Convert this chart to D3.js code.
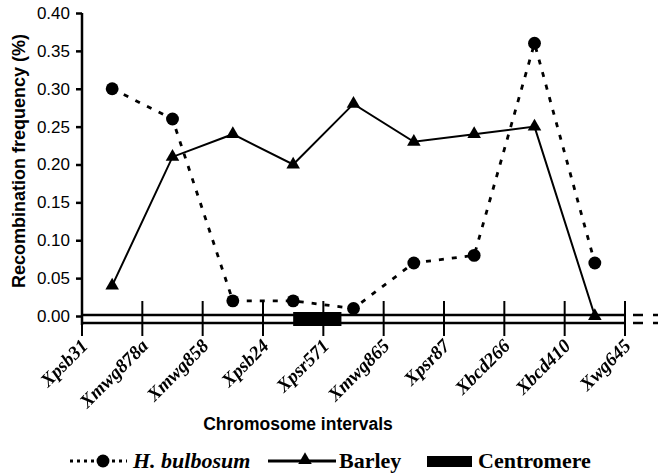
<!DOCTYPE html>
<html>
<head>
<meta charset="utf-8">
<script src="https://cdn.jsdelivr.net/npm/d3@7"></script>
<style>
  body { margin: 0; background: #fff; }
  svg { display: block; }
  text { fill: #000; }
  .mlabels { opacity: 0.999; will-change: transform; }
</style>
</head>
<body>
<script>
// markers along the chromosome (interval boundaries)
const markers = ["Xpsb31", "Xmwg878a", "Xmwg858", "Xpsb24", "Xpsr571", "Xmwg865", "Xpsr87", "Xbcd266", "Xbcd410", "Xwg645"];
// recombination frequency per interval (between consecutive markers)
const bulbosum = [0.30, 0.26, 0.02, 0.02, 0.01, 0.07, 0.08, 0.36, 0.07];
const barley = [0.04, 0.21, 0.24, 0.20, 0.28, 0.23, 0.24, 0.25, 0.00];
// centromere position in marker-index units
const centromere = [3.5, 4.3];
const yTicks = [0, 0.05, 0.10, 0.15, 0.20, 0.25, 0.30, 0.35, 0.40];

const W = 658, H = 474;
const svg = d3.select("body").append("svg").attr("width", W).attr("height", H);

const x = d3.scaleLinear().domain([0, markers.length - 1]).range([82, 625]);
const y = d3.scaleLinear().domain([0, 0.40]).range([316, 13]);

// y axis
const yAxis = svg.append("g")
    .attr("transform", "translate(82,0)")
    .call(d3.axisLeft(y).tickValues(yTicks).tickFormat(d3.format(".2f")).tickSize(6).tickPadding(6));
yAxis.select(".domain").remove();
yAxis.selectAll(".tick line").attr("stroke", "#000").attr("stroke-width", 2.5);
yAxis.selectAll("text").attr("font-family", "Liberation Sans, Arial, sans-serif").attr("font-size", 17).attr("fill", "#000");
svg.append("line").attr("x1", 82).attr("x2", 82).attr("y1", y(0.40)).attr("y2", 325)
    .attr("stroke", "#000").attr("stroke-width", 2.5);

// chromosome drawn as a double line
[315, 323].forEach(yy => {
  svg.append("line").attr("x1", x(0)).attr("x2", x(markers.length - 1)).attr("y1", yy).attr("y2", yy)
      .attr("stroke", "#000").attr("stroke-width", 2.5);
  svg.append("line").attr("x1", 633).attr("x2", 662).attr("y1", yy).attr("y2", yy)
      .attr("stroke", "#000").attr("stroke-width", 2.5).attr("stroke-dasharray", "10,10");
});

// centromere
svg.append("rect")
    .attr("x", x(centromere[0])).attr("width", x(centromere[1]) - x(centromere[0]))
    .attr("y", 312).attr("height", 14).attr("fill", "#000");

// marker ticks
svg.selectAll(".mtick").data(markers).join("line")
    .attr("class", "mtick")
    .attr("x1", (d, i) => x(i)).attr("x2", (d, i) => x(i))
    .attr("y1", 301).attr("y2", 336)
    .attr("stroke", "#000").attr("stroke-width", 2);

// marker labels
svg.append("g").attr("class", "mlabels")
  .selectAll("text").data(markers).join("text")
    .attr("transform", (d, i) => `translate(${x(i) + 7},${347}) rotate(-45)`)
    .attr("text-anchor", "end")
    .attr("fill", "#000")
    .attr("font-family", "Liberation Serif, Times New Roman, serif")
    .attr("font-style", "italic").attr("font-weight", "bold").attr("font-size", 19)
    .text(d => d);

// series
const line = d3.line().x((d, i) => x(i + 0.5)).y(d => y(d));

svg.append("path").datum(bulbosum).attr("d", line)
    .attr("fill", "none").attr("stroke", "#000").attr("stroke-width", 2.8).attr("stroke-dasharray", "5,8");
svg.append("path").datum(barley).attr("d", line)
    .attr("fill", "none").attr("stroke", "#000").attr("stroke-width", 2);

svg.selectAll(".circ").data(bulbosum).join("path")
    .attr("class", "circ")
    .attr("transform", (d, i) => `translate(${x(i + 0.5)},${y(d)})`)
    .attr("d", d3.symbol(d3.symbolCircle, 130)).attr("fill", "#000");
svg.selectAll(".tri").data(barley).join("path")
    .attr("class", "tri")
    .attr("transform", (d, i) => `translate(${x(i + 0.5)},${y(d)})`)
    .attr("d", d3.symbol(d3.symbolTriangle, 80)).attr("fill", "#000");

// axis titles
svg.append("text")
    .attr("transform", "translate(25,161) rotate(-90)")
    .attr("text-anchor", "middle")
    .attr("font-family", "Liberation Sans, Arial, sans-serif").attr("font-weight", "bold").attr("font-size", 18)
    .text("Recombination frequency (%)");
svg.append("text")
    .attr("x", 298).attr("y", 430)
    .attr("text-anchor", "middle")
    .attr("font-family", "Liberation Sans, Arial, sans-serif").attr("font-weight", "bold").attr("font-size", 17.5)
    .text("Chromosome intervals");

// legend
const lg = svg.append("g").attr("font-family", "Liberation Serif, Times New Roman, serif")
    .attr("font-weight", "bold").attr("font-size", 22);
const ly = 461;
lg.append("line").attr("x1", 70).attr("x2", 127).attr("y1", ly).attr("y2", ly)
    .attr("stroke", "#000").attr("stroke-width", 3).attr("stroke-dasharray", "3,4");
lg.append("path").attr("transform", `translate(103,${ly})`).attr("d", d3.symbol(d3.symbolCircle, 130));
lg.append("text").attr("x", 133).attr("y", 468).attr("font-style", "italic").text("H. bulbosum");
lg.append("line").attr("x1", 268).attr("x2", 336).attr("y1", ly).attr("y2", ly)
    .attr("stroke", "#000").attr("stroke-width", 3);
lg.append("path").attr("transform", `translate(305,${ly - 1})`).attr("d", d3.symbol(d3.symbolTriangle, 80));
lg.append("text").attr("x", 339).attr("y", 468).text("Barley");
lg.append("rect").attr("x", 427).attr("y", 456).attr("width", 45).attr("height", 11).attr("fill", "#000");
lg.append("text").attr("x", 478).attr("y", 468).text("Centromere");
</script>
</body>
</html>
